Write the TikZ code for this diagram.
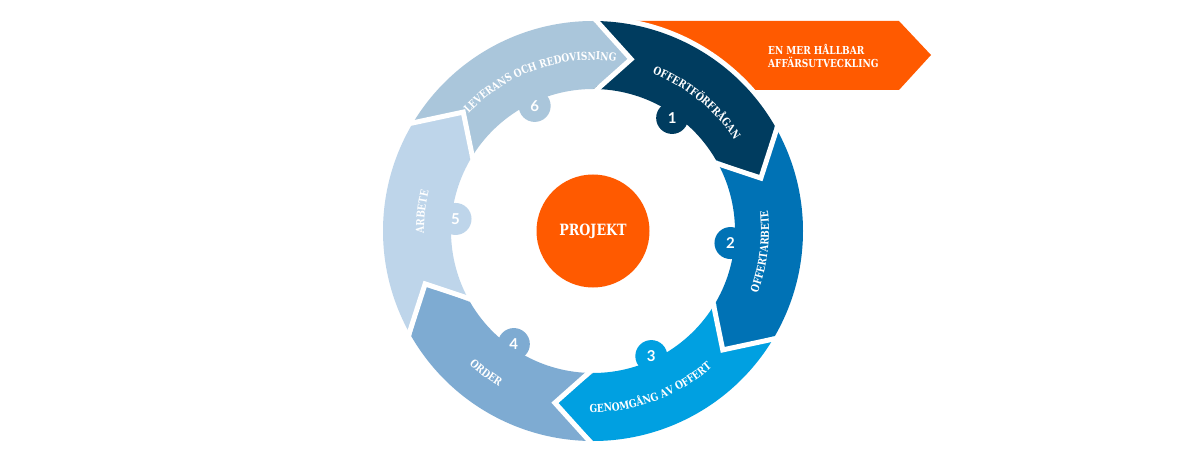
\documentclass[tikz,border=0pt]{standalone}
\usepackage{fontspec}
\setmainfont{DejaVu Serif}
\newfontfamily\labfont{DejaVu Serif}[FakeStretch=0.82]
\newfontfamily\numfont{Lato}
\usetikzlibrary{decorations.text}
\definecolor{cA}{HTML}{003C5F}
\definecolor{cB}{HTML}{0072B5}
\definecolor{cC}{HTML}{00A0E1}
\definecolor{cD}{HTML}{7EABD2}
\definecolor{cE}{HTML}{BED5EA}
\definecolor{cF}{HTML}{AAC6DB}
\definecolor{orng}{HTML}{FF5A00}
\newcommand\labfmt{\color{white}\labfont\bfseries\fontsize{11}{13}\selectfont}
\tikzset{
  numdot/.style={circle, minimum size=32pt, inner sep=0pt, text=white,
    font=\numfont\bfseries\fontsize{15}{15}\selectfont},
  gapline/.style={white, line width=5pt},
  arctext/.style={decorate, decoration={text along path, text align=center, text={|\labfmt|#1}}},
  bannertext/.style={anchor=base west, inner sep=0pt, text=white,
    font=\labfont\bfseries\fontsize{11}{13}\selectfont}
}
\begin{document}
\begin{tikzpicture}[x=1pt,y=1pt]
\useasboundingbox (-593pt,-232pt) rectangle (592pt,231pt);
\fill[white] (-593pt,-232pt) rectangle (592pt,231pt);
% banner
\fill[orng] (0pt,210pt) -- (306pt,210pt) -- (338pt,176pt) -- (306pt,141pt) -- (0pt,141pt) -- cycle;
\fill[white] (0,0) circle (215pt);
\node[bannertext] (bt1) at (175pt,176.5pt) {EN MER HÅLLBAR};
\node[bannertext] (bt2) at (175pt,163.3pt) {AFFÄRSUTVECKLING};
% segments
\foreach \s/\col in {90/cA, 30/cB, -30/cC, -90/cD, -150/cE, 150/cF} {
  \fill[\col] (\s:210pt) arc[start angle=\s, end angle=\s-60, radius=210pt]
    -- (\s-72.5:176pt) -- (\s-60:142pt)
    arc[start angle=\s-60, end angle=\s, radius=142pt]
    -- (\s-12.5:176pt) -- cycle;
}
\foreach \a in {90,30,-30,-90,-150,150} {
  \draw[gapline] (\a:214pt) -- (\a-12.5:176pt) -- (\a:138pt);
}
% number dots
\foreach \a/\n/\col in {55/1/cA, -5/2/cB, -65/3/cC, -125/4/cD, 175/5/cE, 115/6/cF} {
  \node[numdot, fill=\col] (n\n) at (\a:138pt) {\n};
}
% center
\node[circle, fill=orng, minimum size=113pt, inner sep=0pt, text=white,
  font=\labfont\bfseries\fontsize{15.5}{17}\selectfont] (proj) at (0,0) {PROJEKT};
% curved labels
\path[arctext={OFFERTFÖRFRÅGAN}] (91:168pt) arc[start angle=91, end angle=11, radius=168pt];
\path[arctext={LEVERANS OCH REDOVISNING}] (149.5:171pt) arc[start angle=149.5, end angle=69.5, radius=171pt];
\path[arctext={ARBETE}] (213.5:169pt) arc[start angle=213.5, end angle=133.5, radius=169pt];
\path[arctext={OFFERTARBETE}] (-47:176pt) arc[start angle=-47, end angle=33, radius=176pt];
\path[arctext={GENOMGÅNG AV OFFERT}] (-110:181pt) arc[start angle=-110, end angle=-30, radius=181pt];
\path[arctext={ORDER}] (-167:182pt) arc[start angle=-167, end angle=-87, radius=182pt];
\end{tikzpicture}
\end{document}
